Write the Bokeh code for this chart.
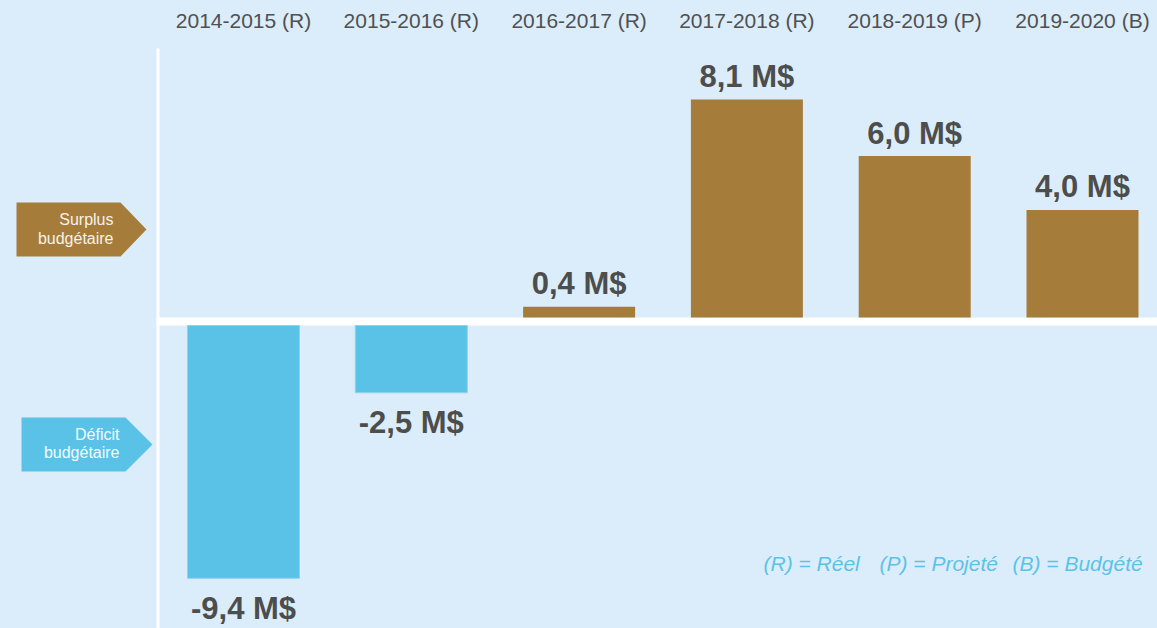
from bokeh.plotting import figure
from bokeh.models import Range1d, GlobalInlineStyleSheet
from bokeh.core.properties import value
from bokeh.embed import file_html
from bokeh.resources import INLINE

# ---- data ----
periods = ["2014-2015 (R)", "2015-2016 (R)", "2016-2017 (R)",
           "2017-2018 (R)", "2018-2019 (P)", "2019-2020 (B)"]
balances = [-9.4, -2.5, 0.4, 8.1, 6.0, 4.0]
value_labels = ["-9,4 M$", "-2,5 M$", "0,4 M$", "8,1 M$", "6,0 M$", "4,0 M$"]
legend_items = ["(R) = Réel", "(P) = Projeté", "(B) = Budgété"]
surplus_lines = ["Surplus", "budgétaire"]
deficit_lines = ["Déficit", "budgétaire"]

# ---- styles ----
BG = "#dbedfa"
GOLD = "#a67c3a"
BLUE = "#5bc2e7"
DARK = "#4d4d4d"
FONT = value("Liberation Sans")

W, H = 1157, 628
STEP = 167.8      # px between category centers
X0 = 243.0        # px of first category center
SCALE = 26.9      # px per M$
BASE = 317.0      # px (from top) of positive baseline
GAP = 8.0         # white band between positive and negative baselines


def xd(px):
    return (px - X0) / STEP


def yd(py):
    return (BASE - py) / SCALE


p = figure(width=W, height=H, output_backend="svg", toolbar_location=None,
           x_range=Range1d(xd(0), xd(W)), y_range=Range1d(yd(H), yd(0)),
           x_axis_location=None, y_axis_location=None, min_border=0,
           background_fill_color=BG, border_fill_color=BG,
           outline_line_color=None)
p.extra_y_ranges = {"neg": Range1d(yd(H) + GAP / SCALE, yd(0) + GAP / SCALE)}
p.grid.visible = False
p.stylesheets = [GlobalInlineStyleSheet(css=f"html,body{{margin:0;padding:0;background:{BG};overflow:hidden;}}")]

idx = list(range(len(periods)))
pos_x = [i for i, v in zip(idx, balances) if v >= 0]
pos_v = [v for v in balances if v >= 0]
pos_t = [t for t, v in zip(value_labels, balances) if v >= 0]
neg_x = [i for i, v in zip(idx, balances) if v < 0]
neg_v = [v for v in balances if v < 0]
neg_t = [t for t, v in zip(value_labels, balances) if v < 0]

BAR_W = 112 / STEP

# white axis lines
p.quad(left=xd(156), right=xd(159), top=yd(48), bottom=yd(H),
       fill_color="white", line_color=None)
p.quad(left=xd(156), right=xd(W), top=yd(BASE), bottom=yd(BASE + GAP),
       fill_color="white", line_color=None)

# bars
p.vbar(x=pos_x, top=pos_v, bottom=0, width=BAR_W, fill_color=GOLD, line_color=None)
p.vbar(x=neg_x, top=0, bottom=neg_v, width=BAR_W, fill_color=BLUE,
       line_color="#8fd3ee", line_width=1, y_range_name="neg")

# value labels
p.text(x=pos_x, y=pos_v, text=pos_t, text_font=FONT, text_font_size="31px",
       text_font_style="bold", text_color=DARK, text_align="center",
       text_baseline="middle", y_offset=-23)
p.text(x=neg_x, y=neg_v, text=neg_t, text_font=FONT, text_font_size="31px",
       text_font_style="bold", text_color=DARK, text_align="center",
       text_baseline="middle", y_offset=30, y_range_name="neg")

# category labels
p.text(x=idx, y=[yd(19.5)] * len(idx), text=periods, text_font=FONT,
       text_font_size="21px", text_color="#505050", text_align="center",
       text_baseline="middle")

# pentagon markers
p.patch(x=[xd(16), xd(120), xd(146), xd(120), xd(16)],
        y=[yd(202), yd(202), yd(229), yd(256), yd(256)],
        fill_color=GOLD, line_color=None)
p.patch(x=[xd(21), xd(125), xd(152), xd(125), xd(21)],
        y=[yd(417), yd(417), yd(444), yd(471), yd(471)],
        fill_color=BLUE, line_color=None)
p.text(x=[xd(113)] * 2, y=[yd(219.3), yd(237.6)], text=surplus_lines,
       text_font=FONT, text_font_size="16px", text_color="#f7f2ea",
       text_align="right", text_baseline="middle")
p.text(x=[xd(119)] * 2, y=[yd(434.3), yd(452.3)], text=deficit_lines,
       text_font=FONT, text_font_size="16px", text_color="#f4fbfe",
       text_align="right", text_baseline="middle")

# legend of abbreviations
p.text(x=[xd(763), xd(879), xd(1012)], y=[yd(562.5)] * 3, text=legend_items,
       text_font=FONT, text_font_size="21px", text_font_style="italic",
       text_color=BLUE, text_align="left", text_baseline="middle")

open("out.html", "w").write(file_html(p, INLINE))
